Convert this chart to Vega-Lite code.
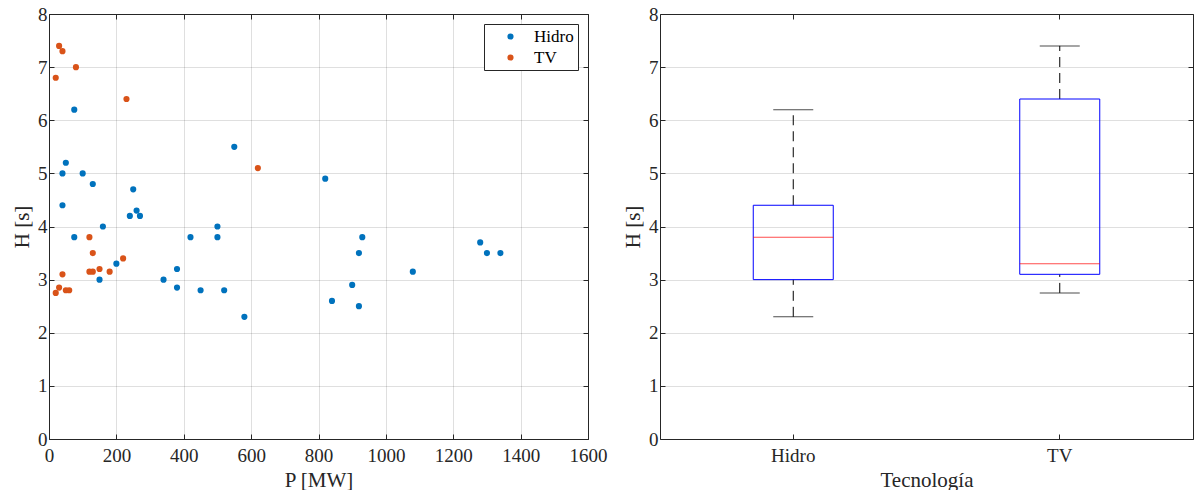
{
  "$schema": "https://vega.github.io/schema/vega-lite/v6.json",
  "background": "white",
  "padding": {"left": 11, "top": 5, "right": 3, "bottom": 0},
  "spacing": 15,
  "resolve": {"legend": {"color": "independent"}},
  "config": {
    "font": "Liberation Serif",
    "view": {"stroke": null},
    "axis": {
      "labelFont": "Liberation Serif",
      "titleFont": "Liberation Serif",
      "labelFontSize": 19,
      "titleFontSize": 21,
      "titleFontWeight": "normal",
      "labelColor": "#262626",
      "titleColor": "#262626",
      "domainColor": "#262626",
      "tickColor": "#262626",
      "tickSize": -5,
      "gridColor": "#262626",
      "gridOpacity": 0.15
    },
    "legend": {
      "labelFont": "Liberation Serif",
      "labelFontSize": 17,
      "labelColor": "#000000"
    }
  },
  "datasets": {
    "puntos": [
      {"P": 75, "H": 6.2, "Tecnologia": "Hidro"},
      {"P": 550, "H": 5.5, "Tecnologia": "Hidro"},
      {"P": 50, "H": 5.2, "Tecnologia": "Hidro"},
      {"P": 40, "H": 5.0, "Tecnologia": "Hidro"},
      {"P": 100, "H": 5.0, "Tecnologia": "Hidro"},
      {"P": 130, "H": 4.8, "Tecnologia": "Hidro"},
      {"P": 250, "H": 4.7, "Tecnologia": "Hidro"},
      {"P": 40, "H": 4.4, "Tecnologia": "Hidro"},
      {"P": 260, "H": 4.3, "Tecnologia": "Hidro"},
      {"P": 240, "H": 4.2, "Tecnologia": "Hidro"},
      {"P": 270, "H": 4.2, "Tecnologia": "Hidro"},
      {"P": 160, "H": 4.0, "Tecnologia": "Hidro"},
      {"P": 420, "H": 3.8, "Tecnologia": "Hidro"},
      {"P": 500, "H": 4.0, "Tecnologia": "Hidro"},
      {"P": 500, "H": 3.8, "Tecnologia": "Hidro"},
      {"P": 75, "H": 3.8, "Tecnologia": "Hidro"},
      {"P": 200, "H": 3.3, "Tecnologia": "Hidro"},
      {"P": 150, "H": 3.0, "Tecnologia": "Hidro"},
      {"P": 340, "H": 3.0, "Tecnologia": "Hidro"},
      {"P": 380, "H": 3.2, "Tecnologia": "Hidro"},
      {"P": 380, "H": 2.85, "Tecnologia": "Hidro"},
      {"P": 450, "H": 2.8, "Tecnologia": "Hidro"},
      {"P": 520, "H": 2.8, "Tecnologia": "Hidro"},
      {"P": 580, "H": 2.3, "Tecnologia": "Hidro"},
      {"P": 820, "H": 4.9, "Tecnologia": "Hidro"},
      {"P": 930, "H": 3.8, "Tecnologia": "Hidro"},
      {"P": 920, "H": 3.5, "Tecnologia": "Hidro"},
      {"P": 1080, "H": 3.15, "Tecnologia": "Hidro"},
      {"P": 900, "H": 2.9, "Tecnologia": "Hidro"},
      {"P": 840, "H": 2.6, "Tecnologia": "Hidro"},
      {"P": 920, "H": 2.5, "Tecnologia": "Hidro"},
      {"P": 1280, "H": 3.7, "Tecnologia": "Hidro"},
      {"P": 1300, "H": 3.5, "Tecnologia": "Hidro"},
      {"P": 1340, "H": 3.5, "Tecnologia": "Hidro"},
      {"P": 30, "H": 7.4, "Tecnologia": "TV"},
      {"P": 40, "H": 7.3, "Tecnologia": "TV"},
      {"P": 80, "H": 7.0, "Tecnologia": "TV"},
      {"P": 20, "H": 6.8, "Tecnologia": "TV"},
      {"P": 230, "H": 6.4, "Tecnologia": "TV"},
      {"P": 620, "H": 5.1, "Tecnologia": "TV"},
      {"P": 120, "H": 3.8, "Tecnologia": "TV"},
      {"P": 130, "H": 3.5, "Tecnologia": "TV"},
      {"P": 220, "H": 3.4, "Tecnologia": "TV"},
      {"P": 40, "H": 3.1, "Tecnologia": "TV"},
      {"P": 120, "H": 3.15, "Tecnologia": "TV"},
      {"P": 130, "H": 3.15, "Tecnologia": "TV"},
      {"P": 150, "H": 3.2, "Tecnologia": "TV"},
      {"P": 180, "H": 3.15, "Tecnologia": "TV"},
      {"P": 30, "H": 2.85, "Tecnologia": "TV"},
      {"P": 20, "H": 2.75, "Tecnologia": "TV"},
      {"P": 50, "H": 2.8, "Tecnologia": "TV"},
      {"P": 60, "H": 2.8, "Tecnologia": "TV"}
    ],
    "cajas": [
      {"Tecnologia": "Hidro", "min": 2.3, "q1": 3.0, "mediana": 3.8, "q3": 4.4, "max": 6.2},
      {"Tecnologia": "TV", "min": 2.75, "q1": 3.1, "mediana": 3.3, "q3": 6.4, "max": 7.4}
    ]
  },
  "hconcat": [
    {
      "width": 539,
      "height": 425,
      "data": {"name": "puntos"},
      "resolve": {"axis": {"x": "independent", "y": "independent"}},
      "layer": [
        {
          "mark": {"type": "circle", "size": 38, "opacity": 1},
          "encoding": {
            "x": {
              "field": "P", "type": "quantitative",
              "scale": {"domain": [0, 1600], "nice": false, "zero": false},
              "axis": {"title": "P [MW]", "format": "d", "labelFont": "Liberation Serif", "titleFont": "Liberation Serif", "labelFontSize": 19, "titleFontSize": 21, "labelPadding": 12, "titlePadding": 4, "values": [0, 200, 400, 600, 800, 1000, 1200, 1400, 1600], "labelFlush": false, "labelOverlap": false}
            },
            "y": {
              "field": "H", "type": "quantitative",
              "scale": {"domain": [0, 8], "nice": false},
              "axis": {"title": "H [s]", "labelFont": "Liberation Serif", "titleFont": "Liberation Serif", "labelFontSize": 19, "titleFontSize": 21, "labelPadding": 7, "titlePadding": 5, "values": [0, 1, 2, 3, 4, 5, 6, 7, 8], "labelFlush": false}
            },
            "color": {
              "field": "Tecnologia", "type": "nominal",
              "scale": {"domain": ["Hidro", "TV"], "range": ["#0072BD", "#D95319"]},
              "legend": {
                "title": null,
                "orient": "top-right",
                "offset": 10,
                "strokeColor": "#262626",
                "fillColor": "white",
                "padding": 4,
                "symbolType": "circle",
                "symbolSize": 38,
                "symbolOffset": 14,
                "labelOffset": 15,
                "labelFontSize": 17,
                "rowPadding": 3
              }
            }
          }
        },
        {
          "mark": {"type": "point", "opacity": 0},
          "encoding": {
            "x": {
              "field": "P", "type": "quantitative",
              "axis": {"orient": "top", "title": null, "labels": false, "grid": false, "values": [0, 200, 400, 600, 800, 1000, 1200, 1400, 1600]}
            },
            "y": {
              "field": "H", "type": "quantitative",
              "axis": {"orient": "right", "title": null, "labels": false, "grid": false, "values": [0, 1, 2, 3, 4, 5, 6, 7, 8]}
            }
          }
        }
      ]
    },
    {
      "width": 533,
      "height": 425,
      "data": {"name": "cajas"},
      "resolve": {"axis": {"x": "independent", "y": "independent"}},
      "layer": [
        {
          "encoding": {
            "x": {
              "field": "Tecnologia", "type": "nominal",
              "scale": {"domain": ["Hidro", "TV"], "paddingInner": 0, "paddingOuter": 0},
              "axis": {"title": "Tecnología", "labelFont": "Liberation Serif", "titleFont": "Liberation Serif", "labelFontSize": 19, "titleFontSize": 21, "labelAngle": 0, "labelPadding": 12, "titlePadding": 4}
            }
          },
          "layer": [
            {
              "mark": {"type": "rule", "color": "#000000", "strokeDash": [10, 6], "strokeWidth": 1},
              "encoding": {
                "y": {
                  "field": "min", "type": "quantitative",
                  "scale": {"domain": [0, 8], "nice": false},
                  "axis": {"title": "H [s]", "labelFont": "Liberation Serif", "titleFont": "Liberation Serif", "labelFontSize": 19, "titleFontSize": 21, "labelPadding": 7, "titlePadding": 5, "values": [0, 1, 2, 3, 4, 5, 6, 7, 8]}
                },
                "y2": {"field": "q1"}
              }
            },
            {
              "mark": {"type": "rule", "color": "#000000", "strokeDash": [10, 6], "strokeWidth": 1},
              "encoding": {
                "y": {"field": "q3", "type": "quantitative"},
                "y2": {"field": "max"}
              }
            },
            {
              "mark": {"type": "tick", "color": "#000000", "size": 40, "thickness": 1, "orient": "horizontal"},
              "encoding": {"y": {"field": "min", "type": "quantitative"}}
            },
            {
              "mark": {"type": "tick", "color": "#000000", "size": 40, "thickness": 1, "orient": "horizontal"},
              "encoding": {"y": {"field": "max", "type": "quantitative"}}
            },
            {
              "mark": {"type": "bar", "width": 80, "fill": null, "fillOpacity": 0, "stroke": "#0000FF", "strokeWidth": 1},
              "encoding": {
                "y": {"field": "q1", "type": "quantitative"},
                "y2": {"field": "q3"}
              }
            },
            {
              "mark": {"type": "tick", "color": "#FF0000", "size": 80, "thickness": 1, "orient": "horizontal"},
              "encoding": {"y": {"field": "mediana", "type": "quantitative"}}
            }
          ]
        },
        {
          "mark": {"type": "point", "opacity": 0},
          "encoding": {
            "x": {
              "field": "Tecnologia", "type": "nominal",
              "axis": {"orient": "top", "title": null, "labels": false, "grid": false}
            },
            "y": {
              "field": "mediana", "type": "quantitative",
              "axis": {"orient": "right", "title": null, "labels": false, "grid": false, "values": [0, 1, 2, 3, 4, 5, 6, 7, 8]}
            }
          }
        }
      ]
    }
  ]
}
